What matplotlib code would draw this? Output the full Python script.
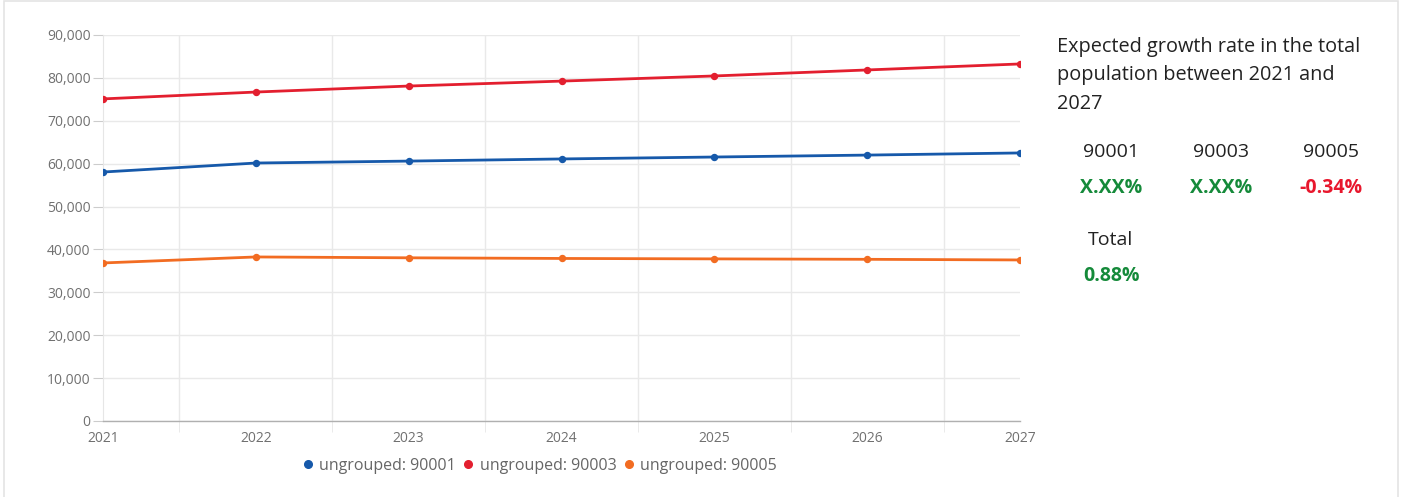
import matplotlib
matplotlib.use("Agg")
import matplotlib.pyplot as plt
from matplotlib.patches import Rectangle
from matplotlib.ticker import FuncFormatter, MultipleLocator

plt.rcParams['font.family'] = ['Open Sans', 'DejaVu Sans']

years = [2021, 2022, 2023, 2024, 2025, 2026, 2027]
pop_90001 = [58050, 60150, 60600, 61100, 61550, 62000, 62500]
pop_90003 = [75100, 76700, 78100, 79250, 80450, 81850, 83250]
pop_90005 = [36850, 38250, 38050, 37900, 37800, 37700, 37550]
series_names = ["ungrouped: 90001", "ungrouped: 90003", "ungrouped: 90005"]

zip_codes = ["90001", "90003", "90005"]
growth_labels = ["X.XX%", "X.XX%", "-0.34%"]
total_label = "0.88%"
title_lines = ["Expected growth rate in the total",
               "population between 2021 and",
               "2027"]

BLUE = "#1659aa"
RED = "#e31f2f"
ORANGE = "#f26c22"
GREEN = "#158a3a"
NEG_RED = "#e8172d"

W, H = 1402, 497
fig = plt.figure(figsize=(W / 100, H / 100), dpi=100)


def fx(px):
    return px / W


def fy(py):
    return 1 - py / H


# card outline
fig.patches.append(Rectangle((fx(4), -0.02), fx(1394), 1.0 - 1 / H + 0.02,
                             transform=fig.transFigure, fill=False,
                             edgecolor="#e4e4e4", linewidth=1.2))

ax = fig.add_axes([fx(103), fy(421), fx(1020 - 103), (421 - 35) / H])

for vals, col, name in zip([pop_90001, pop_90003, pop_90005], [BLUE, RED, ORANGE], series_names):
    ax.plot(years, vals, color=col, lw=2.0, marker="o", ms=4.3, label=name,
            solid_capstyle="round", zorder=3)

ax.set_xlim(2021, 2027)
ax.set_ylim(0, 90000)
ax.yaxis.set_major_locator(MultipleLocator(10000))
ax.yaxis.set_major_formatter(FuncFormatter(lambda v, p: f"{int(v):,}"))
ax.set_xticks(years)
ax.set_xticks([y + 0.5 for y in years[:-1]], minor=True)

ax.grid(axis="y", which="major", color="#e9e9e9", lw=1)
ax.grid(axis="x", which="minor", color="#e9e9e9", lw=1)
ax.set_axisbelow(True)

for s in ["top", "right"]:
    ax.spines[s].set_visible(False)
ax.spines["left"].set_color("#e6e6e6")
ax.spines["bottom"].set_color("#b0b0b0")
ax.spines["bottom"].set_linewidth(1.0)

ax.tick_params(axis="y", length=7, color="#cccccc", labelcolor="#707070",
               labelsize=10, pad=2)
ax.tick_params(axis="x", which="major", length=0, labelcolor="#707070",
               labelsize=10, pad=7)
ax.tick_params(axis="x", which="minor", length=8, color="#e6e6e6")

leg = fig.legend(loc="center", bbox_to_anchor=(fx(540), fy(466)), ncol=3,
                 frameon=False, handlelength=0.6, handletextpad=0.4,
                 columnspacing=0.5, fontsize=11.5)
for h in leg.legend_handles:
    h.set_linestyle("none")
    h.set_markersize(5.5)
for t in leg.get_texts():
    t.set_color("#666666")

# growth summary panel
for line, py in zip(title_lines, [47, 75, 104]):
    fig.text(fx(1057), fy(py), line, ha="left", va="center",
             fontsize=14.3, color="#222222")

col_x = [1111, 1221, 1331]
for x, code, lab in zip(col_x, zip_codes, growth_labels):
    fig.text(fx(x), fy(152), code, ha="center", va="center",
             fontsize=14, color="#222222")
    col = NEG_RED if lab.startswith("-") else GREEN
    fig.text(fx(x), fy(188), lab, ha="center", va="center",
             fontsize=14, color=col, fontweight="bold")

fig.text(fx(1111), fy(240), "Total", ha="center", va="center",
         fontsize=14, color="#222222")
fig.text(fx(1111), fy(276), total_label, ha="center", va="center",
         fontsize=14, color=GREEN, fontweight="bold")

fig.savefig("out.png", dpi=100, facecolor="white")
